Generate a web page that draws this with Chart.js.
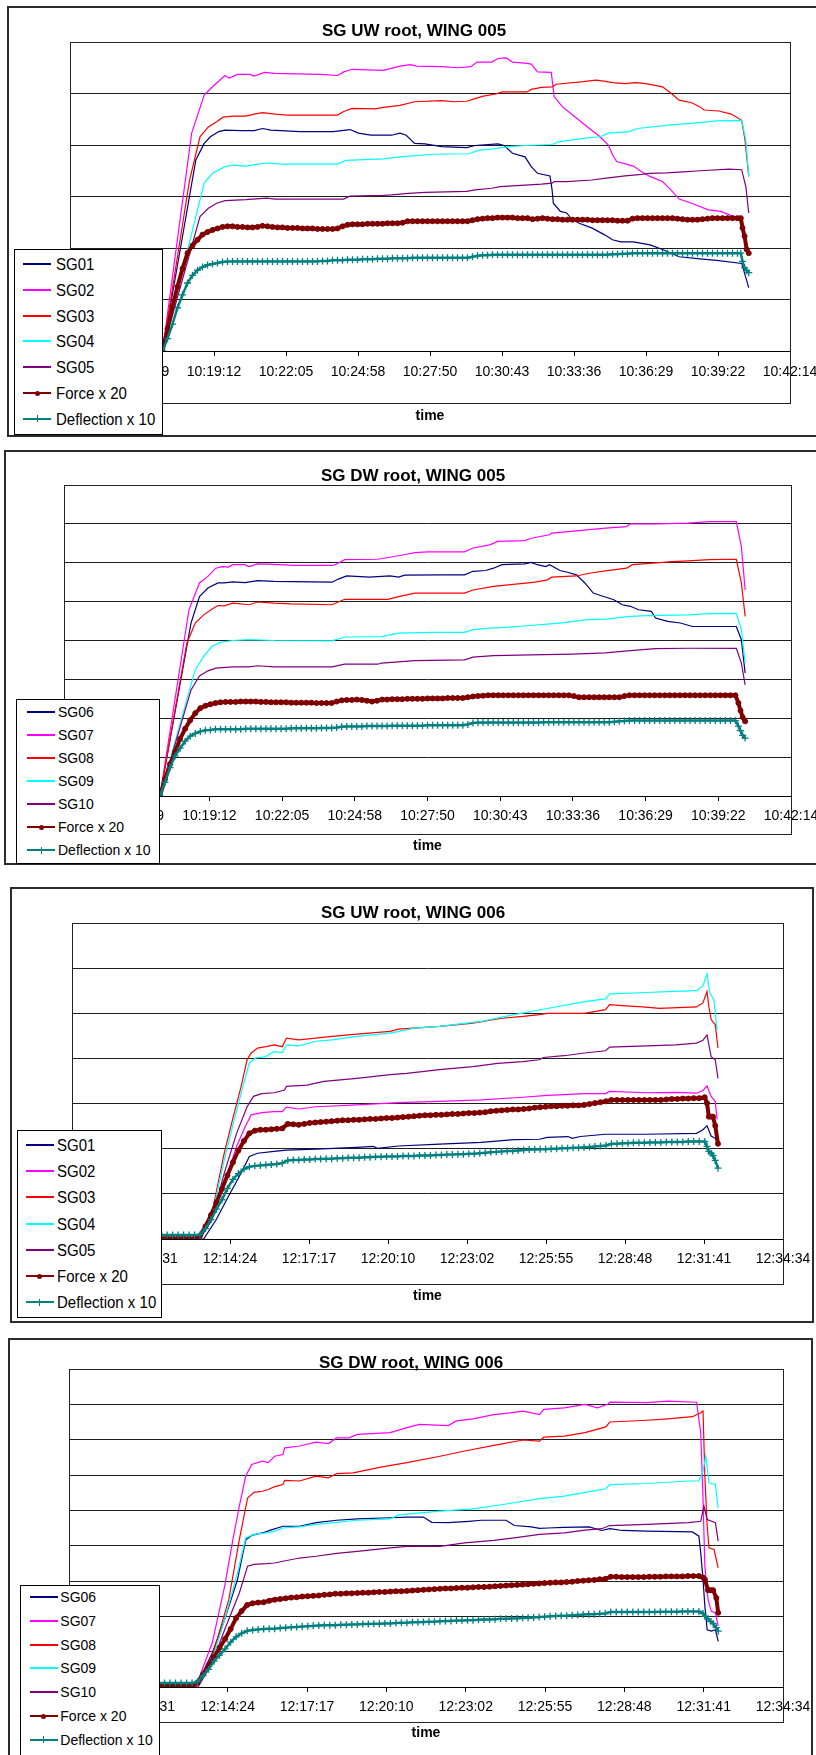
<!DOCTYPE html>
<html>
<head>
<meta charset="utf-8">
<title>SG root, WING 005 / 006</title>
<script src="https://cdn.jsdelivr.net/npm/chart.js@4.4.1/dist/chart.umd.min.js"></script>
<style>
  body {
    margin: 0;
    width: 816px;
    height: 1755px;
    overflow: hidden;
    position: relative;
    background: #fff;
    font-family: "Liberation Sans", Arial, sans-serif;
  }
  .frame {
    position: absolute;
    box-sizing: border-box;
    border: 2px solid #2b2b2b;
  }
  .chart-title {
    position: absolute;
    width: 400px;
    height: 20px;
    line-height: 20px;
    text-align: center;
    font-weight: bold;
    font-size: 17px;
    color: #000;
    white-space: nowrap;
  }
  .legend {
    position: absolute;
    box-sizing: border-box;
    border: 1px solid #000;
    background: #fff;
  }
  .legend-line {
    position: absolute;
    height: 2px;
  }
  .legend-dot {
    position: absolute;
    width: 5px;
    height: 5px;
    border-radius: 50%;
  }
  .legend-plus {
    position: absolute;
  }
  .legend-text {
    position: absolute;
    line-height: 1;
    white-space: nowrap;
    color: #000;
    transform: translateY(-50%) scaleY(1.07);
    transform-origin: left center;
  }
</style>
</head>
<body>
<script>
// Time axes: seconds after the first tick, one major unit = 0.002 day
const TICK_STEP = 172.8;
const ticks005 = ["10:13:26", "10:16:19", "10:19:12", "10:22:05", "10:24:58", "10:27:50",
  "10:30:43", "10:33:36", "10:36:29", "10:39:22", "10:42:14"];
const ticks006 = ["12:08:38", "12:11:31", "12:14:24", "12:17:17", "12:20:10",
  "12:23:02", "12:25:55", "12:28:48", "12:31:41", "12:34:34"];

const namesUW = ["SG01", "SG02", "SG03", "SG04", "SG05", "Force x 20", "Deflection x 10"];
const namesDW = ["SG06", "SG07", "SG08", "SG09", "SG10", "Force x 20", "Deflection x 10"];

// ---- SG UW root, WING 005 : [seconds, value] ----
const uw005SG01 = [[222,0],[302,3.71],[322,4.03],[337,4.16],[357,4.26],[372,4.29],[412,4.28],[442,4.28],[462,4.32],[482,4.29],[552,4.26],[632,4.26],[662,4.29],[672,4.30],[692,4.23],[722,4.19],[772,4.19],[792,4.23],[807,4.19],[827,4.03],[852,4.02],[892,3.97],[952,3.95],[972,3.99],[1027,4.02],[1042,3.99],[1062,3.84],[1092,3.77],[1107,3.58],[1122,3.45],[1152,3.40],[1157,3.13],[1160,2.87],[1177,2.71],[1192,2.68],[1202,2.58],[1222,2.48],[1252,2.39],[1282,2.26],[1302,2.16],[1322,2.12],[1352,2.12],[1392,2.06],[1422,1.97],[1462,1.83],[1512,1.79],[1552,1.76],[1612,1.70],[1629,1.23]];
const uw005SG02 = [[222,0],[292,4.23],[322,4.97],[342,5.13],[372,5.35],[382,5.30],[402,5.37],[432,5.37],[442,5.34],[467,5.41],[492,5.39],[602,5.37],[642,5.35],[657,5.42],[677,5.47],[752,5.45],[792,5.53],[817,5.56],[832,5.53],[892,5.52],[932,5.50],[962,5.52],[977,5.61],[1012,5.61],[1027,5.68],[1047,5.69],[1062,5.61],[1092,5.59],[1107,5.57],[1122,5.42],[1155,5.41],[1162,4.94],[1182,4.74],[1202,4.61],[1242,4.35],[1272,4.16],[1292,4.00],[1302,3.81],[1312,3.68],[1352,3.59],[1372,3.48],[1392,3.39],[1422,3.29],[1442,3.13],[1462,2.95],[1492,2.87],[1532,2.74],[1562,2.71],[1587,2.63],[1612,2.58],[1622,2.16],[1629,1.90]];
const uw005SG03 = [[222,0],[287,3.32],[312,4.16],[332,4.35],[352,4.45],[367,4.54],[392,4.56],[422,4.56],[442,4.60],[462,4.63],[492,4.60],[522,4.58],[642,4.58],[657,4.65],[677,4.71],[732,4.70],[752,4.73],[792,4.77],[827,4.84],[892,4.86],[922,4.84],[952,4.85],[972,4.90],[992,4.95],[1022,4.99],[1037,5.03],[1097,5.03],[1107,5.08],[1132,5.12],[1157,5.13],[1167,5.18],[1232,5.23],[1262,5.26],[1282,5.24],[1302,5.21],[1332,5.19],[1357,5.21],[1382,5.19],[1422,5.13],[1442,5.01],[1462,4.87],[1492,4.82],[1512,4.74],[1522,4.68],[1557,4.66],[1587,4.60],[1612,4.48],[1620,4.10],[1629,3.39]];
const uw005SG04 = [[222,0],[322,3.26],[342,3.45],[372,3.58],[392,3.61],[422,3.59],[452,3.63],[472,3.65],[512,3.63],[642,3.63],[662,3.70],[692,3.71],[752,3.73],[792,3.77],[822,3.79],[872,3.82],[957,3.83],[982,3.90],[1012,3.92],[1052,3.97],[1092,3.99],[1157,4.01],[1172,4.06],[1232,4.13],[1272,4.16],[1292,4.23],[1342,4.26],[1362,4.32],[1442,4.39],[1492,4.42],[1552,4.47],[1612,4.48],[1622,4.10],[1629,3.39]];
const uw005SG05 = [[222,0],[312,2.61],[332,2.77],[352,2.87],[372,2.92],[422,2.94],[472,2.97],[492,2.95],[657,2.95],[672,3.01],[752,3.02],[772,3.03],[812,3.06],[852,3.08],[952,3.10],[972,3.13],[1012,3.16],[1032,3.19],[1072,3.21],[1132,3.24],[1157,3.26],[1162,3.29],[1192,3.29],[1252,3.32],[1292,3.36],[1332,3.40],[1372,3.43],[1392,3.45],[1432,3.46],[1472,3.48],[1512,3.50],[1582,3.53],[1612,3.52],[1622,3.19],[1629,2.68]];
const uw005Force = [
  0,0.43,0.86,1.25,1.60,1.90,2.05,2.16,2.26,2.31,2.35,2.38,2.41,2.42,
  2.42,2.41,2.41,2.40,2.40,2.41,2.43,2.42,2.41,2.40,2.40,
  2.39,2.39,2.39,2.38,2.38,2.38,2.37,2.37,2.37,2.37,2.38,
  2.42,2.45,2.46,2.46,2.46,2.47,2.47,2.47,2.47,2.48,2.48,2.48,2.49,2.52,
  2.52,2.52,2.52,2.52,2.52,2.52,2.52,2.52,2.52,2.52,2.52,2.52,
  2.54,2.56,2.57,2.58,2.58,2.59,2.59,2.59,2.59,2.58,2.58,2.58,
  2.56,2.57,2.58,2.57,2.56,2.56,2.55,2.55,2.55,2.55,2.55,2.55,2.54,2.54,2.54,2.54,2.54,2.53,2.53,2.53,
  2.57,2.58,2.58,2.58,2.58,2.58,2.58,2.58,2.58,2.57,2.56,2.55,
  2.55,2.55,2.56,2.57,2.58,2.58,2.58,2.58,2.58,2.58,
  2.58,2.39,2.23,1.97,1.90];
const uw005Deflection = [
  0,0.24,0.52,0.84,1.09,1.32,1.47,1.57,1.63,1.67,1.69,1.71,1.73,1.74,
  1.74,1.74,1.74,1.74,1.74,1.74,1.74,1.74,1.74,1.74,1.74,1.74,1.74,1.74,1.74,1.74,1.74,1.74,
  1.75,1.75,1.76,1.76,1.76,1.77,1.77,1.77,1.78,1.78,1.78,1.79,1.79,1.79,1.80,1.80,1.80,1.80,
  1.81,1.81,1.81,1.81,1.81,1.81,1.81,1.81,1.81,1.81,1.81,1.81,
  1.83,1.85,1.86,1.86,1.87,
  1.87,1.87,1.87,1.87,1.87,1.87,1.87,1.87,1.87,1.87,1.87,1.87,1.87,1.87,1.87,1.87,1.87,1.87,1.87,1.87,1.87,1.87,1.87,
  1.88,1.88,1.89,1.89,1.90,
  1.90,1.90,1.90,1.90,1.90,1.90,1.90,1.90,1.90,1.90,1.90,1.90,1.90,1.90,1.90,1.90,1.90,1.90,1.90,1.90,1.90,
  1.90,1.74,1.62,1.56,1.52];

// ---- SG DW root, WING 005 ----
const dw005SG06 = [[228,0],[302,4.45],[322,5.13],[342,5.35],[366,5.48],[381,5.48],[401,5.51],[430,5.49],[460,5.54],[499,5.52],[637,5.50],[652,5.58],[672,5.66],[726,5.63],[775,5.66],[795,5.63],[810,5.68],[893,5.69],[952,5.69],[972,5.78],[1002,5.80],[1021,5.86],[1041,5.95],[1095,5.97],[1110,6.01],[1125,5.95],[1145,5.90],[1154,5.95],[1179,5.80],[1199,5.75],[1218,5.69],[1238,5.48],[1258,5.22],[1277,5.15],[1307,5.05],[1327,4.92],[1346,4.88],[1366,4.79],[1396,4.75],[1406,4.58],[1435,4.49],[1465,4.45],[1494,4.36],[1598,4.36],[1610,4.02],[1619,3.16]];
const dw005SG07 = [[228,0],[297,4.79],[322,5.48],[342,5.65],[361,5.86],[376,5.90],[391,5.89],[401,5.95],[430,5.95],[440,5.90],[460,5.97],[499,5.96],[549,5.93],[637,5.93],[647,5.96],[667,6.08],[746,6.09],[795,6.18],[834,6.26],[864,6.28],[952,6.28],[972,6.38],[1012,6.46],[1031,6.55],[1095,6.57],[1110,6.63],[1154,6.72],[1159,6.76],[1218,6.82],[1248,6.85],[1287,6.89],[1337,6.93],[1346,7.00],[1410,7.00],[1484,7.02],[1534,7.06],[1598,7.06],[1610,6.42],[1619,5.30]];
const dw005SG08 = [[228,0],[292,3.93],[312,4.45],[332,4.66],[352,4.81],[366,4.90],[381,4.89],[401,4.96],[440,4.92],[460,4.99],[499,4.96],[539,4.94],[637,4.92],[667,5.06],[770,5.06],[795,5.13],[834,5.22],[952,5.22],[972,5.30],[1021,5.39],[1120,5.50],[1149,5.56],[1159,5.63],[1218,5.66],[1248,5.73],[1287,5.79],[1337,5.86],[1351,5.95],[1401,5.99],[1445,6.03],[1484,6.05],[1534,6.08],[1598,6.09],[1610,5.48],[1619,4.62]];
const dw005SG09 = [[228,0],[312,3.25],[332,3.59],[352,3.85],[371,3.95],[401,4.00],[440,4.02],[499,4.00],[637,3.99],[667,4.09],[755,4.10],[795,4.19],[874,4.21],[952,4.21],[972,4.28],[1012,4.32],[1051,4.34],[1100,4.38],[1149,4.42],[1189,4.46],[1238,4.53],[1287,4.55],[1346,4.62],[1386,4.64],[1484,4.66],[1534,4.69],[1598,4.70],[1610,4.28],[1619,3.42]];
const dw005SG10 = [[228,0],[302,2.73],[322,3.09],[342,3.22],[361,3.29],[401,3.32],[440,3.32],[460,3.35],[499,3.32],[637,3.32],[667,3.39],[746,3.39],[755,3.42],[834,3.48],[952,3.50],[972,3.57],[1021,3.61],[1110,3.63],[1209,3.65],[1287,3.68],[1346,3.74],[1406,3.79],[1484,3.80],[1598,3.80],[1610,3.42],[1619,2.86]];
const dw005Force = [
  0,0.43,0.82,1.14,1.47,1.73,1.95,2.13,2.26,2.32,2.36,2.39,2.41,2.42,2.42,2.42,
  2.43,2.43,2.43,2.43,2.42,2.42,2.41,
  2.41,2.41,2.41,2.40,2.40,2.40,2.40,2.40,2.39,2.39,2.39,2.39,
  2.43,2.46,2.47,2.47,2.48,2.47,2.45,2.43,2.45,2.48,
  2.48,2.49,2.49,2.49,2.50,2.50,2.50,2.50,2.51,2.51,2.51,2.51,2.52,
  2.52,2.52,2.52,
  2.54,2.56,2.57,2.58,
  2.59,2.59,2.59,2.59,2.59,2.59,2.59,2.59,2.59,2.59,2.59,2.59,2.59,2.59,2.59,2.59,2.59,
  2.57,
  2.54,2.54,2.54,2.54,2.54,2.54,2.54,2.54,2.54,
  2.57,
  2.59,2.59,2.59,2.59,2.59,2.59,2.59,2.59,2.59,2.59,2.59,2.59,2.59,2.59,2.59,2.59,2.59,2.59,2.59,2.59,2.59,2.59,
  2.39,2.20,2.03,1.92];
const dw005Deflection = [
  0,0.35,0.73,1.03,1.23,1.41,1.54,1.61,1.66,1.69,1.70,1.72,
  1.72,1.72,1.72,1.72,1.72,1.73,1.73,1.73,1.73,1.73,1.73,
  1.73,1.73,1.73,1.74,1.74,1.74,1.74,1.74,1.74,1.75,1.75,1.75,
  1.76,1.78,
  1.79,1.79,1.79,1.79,1.80,1.80,1.80,1.80,1.80,1.81,
  1.81,1.81,1.81,1.81,1.81,1.81,1.82,1.82,1.82,1.82,1.82,1.82,1.82,1.82,
  1.84,1.88,
  1.89,1.89,1.89,1.89,1.89,1.89,1.89,1.89,1.89,1.89,1.89,1.89,1.89,
  1.90,1.90,1.90,1.90,1.90,1.90,1.90,1.90,1.90,1.90,1.90,1.90,1.90,
  1.90,1.91,1.92,1.93,
  1.94,1.94,1.94,1.94,1.94,1.94,1.94,1.94,1.94,1.94,1.94,1.94,1.94,1.94,1.94,1.94,1.94,1.94,1.94,1.94,1.94,1.94,
  1.80,1.68,1.56,1.49];

// ---- SG UW root, WING 006 ----
const uw006SG01 = [[100,0],[288,0],[315,0.42],[342,0.94],[370,1.46],[388,1.83],[406,1.90],[442,1.94],[469,1.97],[533,1.99],[623,2.03],[659,2.05],[668,2.01],[714,2.06],[804,2.10],[895,2.14],[967,2.20],[1022,2.21],[1040,2.25],[1085,2.27],[1094,2.23],[1112,2.27],[1167,2.32],[1257,2.32],[1366,2.34],[1380,2.42],[1389,2.51],[1398,2.28],[1407,2.23],[1411,2.14]];
const uw006SG02 = [[100,0],[279,0],[306,0.42],[333,1.23],[360,2.05],[379,2.49],[392,2.75],[415,2.80],[442,2.82],[460,2.82],[469,2.92],[496,2.88],[533,2.93],[623,2.97],[714,3.02],[804,3.05],[895,3.08],[986,3.14],[1040,3.18],[1121,3.22],[1167,3.22],[1176,3.27],[1257,3.24],[1321,3.25],[1366,3.23],[1380,3.29],[1389,3.39],[1398,3.16],[1407,3.05],[1411,2.65]];
const uw006SG03 = [[100,0],[279,0],[306,0.57],[333,1.90],[351,2.64],[370,3.38],[383,3.97],[392,4.12],[406,4.23],[424,4.26],[442,4.30],[460,4.26],[469,4.45],[496,4.41],[533,4.45],[569,4.49],[623,4.54],[696,4.60],[714,4.65],[804,4.71],[877,4.78],[940,4.89],[986,4.93],[1022,4.97],[1040,5.00],[1121,5.00],[1167,5.08],[1176,5.19],[1203,5.17],[1248,5.14],[1285,5.11],[1366,5.14],[1380,5.23],[1389,5.48],[1393,5.15],[1398,4.86],[1407,4.75],[1413,4.23]];
const uw006SG04 = [[100,0],[279,0],[306,0.50],[333,1.75],[351,2.49],[370,3.23],[388,3.90],[401,4.01],[424,4.04],[442,4.15],[460,4.13],[469,4.30],[496,4.28],[533,4.38],[569,4.41],[623,4.49],[696,4.56],[750,4.67],[804,4.71],[895,4.82],[967,4.97],[1031,5.09],[1121,5.26],[1167,5.32],[1176,5.43],[1257,5.46],[1303,5.48],[1366,5.50],[1380,5.60],[1389,5.88],[1395,5.45],[1404,5.30],[1411,4.63]];
const uw006SG05 = [[100,0],[279,0],[306,0.42],[333,1.46],[360,2.34],[383,2.93],[397,3.16],[415,3.22],[442,3.24],[465,3.30],[469,3.38],[514,3.41],[551,3.49],[623,3.56],[696,3.64],[732,3.67],[804,3.75],[877,3.82],[931,3.89],[986,3.93],[1022,3.97],[1031,4.02],[1076,4.06],[1121,4.12],[1167,4.17],[1176,4.25],[1257,4.28],[1321,4.30],[1366,4.34],[1380,4.40],[1389,4.52],[1398,4.04],[1407,3.97],[1413,3.56]];
const uw006Force = [
  0.01,0.01,0.01,0.01,0.01,0.01,0.01,0.01,0.01,0.01,0.01,0.01,0.01,0.01,0.01,
  0.07,0.28,0.53,0.81,1.11,1.41,1.70,1.96,2.17,2.34,2.40,2.42,2.42,2.43,2.44,2.45,
  2.55,2.54,2.53,2.55,2.57,2.58,2.59,2.60,2.61,2.62,2.63,2.63,2.64,2.64,2.65,2.66,
  2.66,2.67,2.68,2.68,2.69,2.70,2.71,2.72,2.73,2.74,2.74,2.75,2.75,2.76,2.77,2.77,
  2.78,2.79,2.79,2.80,2.81,2.83,2.84,2.85,2.86,2.87,2.87,2.88,2.89,2.91,2.92,2.93,
  2.94,2.94,2.95,2.95,2.96,2.96,2.97,2.99,3.01,3.03,3.05,3.08,
  3.08,3.08,3.08,3.08,3.08,3.08,3.08,3.08,3.08,
  3.09,3.10,3.10,3.11,3.11,3.12,3.12,3.14,
  3.01,2.71,2.71,2.71,2.51,2.11];
const uw006Deflection = [
  0.09,0.09,0.09,0.09,0.09,0.09,0.09,0.09,0.09,0.09,0.09,0.09,0.09,0.09,0.09,
  0.09,0.23,0.43,0.66,0.87,1.12,1.32,1.45,1.55,1.60,1.62,1.63,1.64,1.65,1.66,1.68,1.74,
  1.75,1.75,1.76,1.76,1.77,
  1.77,1.78,1.78,1.79,1.79,1.80,1.80,
  1.80,1.81,1.81,1.82,1.82,1.83,
  1.83,1.83,1.84,1.84,1.84,1.85,1.85,1.85,1.86,
  1.86,1.87,1.87,1.88,1.88,1.89,1.89,1.90,
  1.91,1.92,1.93,1.94,1.95,1.95,1.96,1.97,1.98,1.98,
  1.99,1.99,2.00,2.00,2.01,2.01,2.02,2.02,2.03,
  2.04,2.05,2.06,2.07,
  2.11,2.11,2.12,2.12,2.13,2.13,2.13,2.14,2.14,2.14,2.15,2.15,2.15,2.15,2.16,2.16,2.16,2.16,
  2.05,1.94,1.90,1.85,1.74,1.57];

// ---- SG DW root, WING 006 ----
const dw006SG06 = [[100,0],[276,0],[312,0.96],[339,1.91],[367,3.04],[385,4.17],[398,4.29],[421,4.36],[439,4.44],[466,4.55],[502,4.55],[538,4.65],[583,4.72],[628,4.76],[700,4.79],[736,4.81],[772,4.81],[790,4.66],[826,4.65],[871,4.69],[898,4.72],[952,4.72],[970,4.57],[1007,4.53],[1025,4.49],[1043,4.50],[1079,4.52],[1133,4.53],[1160,4.43],[1178,4.48],[1205,4.43],[1259,4.41],[1358,4.39],[1372,4.27],[1376,3.80],[1381,3.04],[1385,2.29],[1390,1.62],[1399,1.58],[1408,1.62],[1414,1.29]];
const dw006SG07 = [[100,0],[276,0],[312,1.25],[339,2.85],[357,4.17],[371,5.12],[385,5.97],[398,6.30],[421,6.39],[434,6.35],[448,6.53],[466,6.58],[470,6.77],[502,6.82],[538,6.93],[565,6.89],[583,7.05],[610,7.05],[628,7.15],[700,7.20],[736,7.34],[763,7.43],[826,7.40],[844,7.53],[880,7.59],[925,7.71],[961,7.76],[989,7.81],[1025,7.71],[1034,7.86],[1079,7.90],[1124,8.00],[1151,7.90],[1173,8.00],[1178,8.06],[1259,8.05],[1304,8.09],[1367,8.06],[1376,7.20],[1381,5.31],[1385,3.42],[1392,2.47],[1399,2.14],[1408,2.10],[1414,1.72]];
const dw006SG08 = [[100,0],[276,0],[312,0.87],[348,2.47],[371,4.17],[389,5.35],[403,5.51],[421,5.54],[434,5.59],[448,5.67],[466,5.73],[470,5.85],[502,5.83],[538,5.97],[565,5.92],[583,6.04],[619,6.06],[682,6.23],[736,6.35],[808,6.53],[862,6.68],[934,6.86],[989,6.99],[1025,6.96],[1034,7.07],[1079,7.10],[1124,7.20],[1169,7.36],[1178,7.50],[1259,7.55],[1304,7.59],[1358,7.65],[1376,7.76],[1381,7.81],[1385,5.97],[1390,4.55],[1394,3.94],[1405,3.89],[1414,3.37]];
const dw006SG09 = [[100,0],[281,0],[312,0.77],[339,1.91],[367,3.23],[385,4.22],[403,4.32],[430,4.36],[448,4.41],[466,4.50],[502,4.53],[538,4.60],[583,4.66],[628,4.72],[700,4.76],[718,4.87],[808,4.98],[880,5.04],[952,5.18],[1025,5.33],[1079,5.40],[1124,5.51],[1169,5.61],[1178,5.73],[1259,5.76],[1349,5.83],[1372,5.83],[1381,6.11],[1387,6.55],[1394,5.78],[1408,5.73],[1414,5.07]];
const dw006SG10 = [[100,0],[281,0],[312,0.68],[339,1.62],[371,2.66],[389,3.42],[403,3.47],[430,3.49],[448,3.51],[466,3.56],[502,3.65],[538,3.70],[583,3.78],[628,3.84],[700,3.94],[736,3.98],[808,3.98],[862,4.08],[925,4.15],[970,4.22],[1025,4.32],[1079,4.36],[1124,4.44],[1160,4.48],[1178,4.57],[1259,4.60],[1349,4.65],[1376,4.69],[1383,5.12],[1390,4.74],[1408,4.65],[1414,4.13]];
const dw006Force = [
  0.03,0.03,0.03,0.03,0.03,0.03,0.03,0.03,0.03,0.03,0.03,0.03,0.03,0.03,0.03,
  0.13,0.36,0.61,0.85,1.11,1.36,1.64,1.95,2.15,2.32,2.37,2.39,2.40,2.44,2.47,2.49,
  2.51,2.53,2.54,2.56,2.57,2.58,2.59,2.61,2.62,2.64,2.64,2.65,2.65,2.66,2.67,2.67,
  2.68,2.69,2.69,2.70,2.71,2.71,2.72,2.73,2.74,2.75,2.76,2.77,2.78,2.79,2.79,2.80,
  2.81,2.81,2.82,2.83,2.83,2.84,2.85,2.86,2.87,2.88,2.89,2.90,2.91,2.92,2.93,2.94,
  2.95,2.96,2.96,2.97,2.98,3.00,3.01,3.02,3.03,3.05,3.06,3.12,
  3.12,3.11,3.11,3.11,3.11,3.11,3.12,3.12,3.12,3.13,3.13,3.13,3.13,3.14,3.14,3.14,
  3.10,3.04,2.74,2.74,2.74,2.52,2.10];
const dw006Deflection = [
  0.11,0.11,0.11,0.11,0.11,0.11,0.11,0.11,0.11,0.11,0.11,0.11,0.11,0.11,0.11,
  0.15,0.32,0.50,0.73,0.90,1.08,1.27,1.42,1.52,1.59,1.61,
  1.63,1.64,1.65,1.65,1.67,
  1.68,1.69,1.70,1.71,1.72,1.73,1.74,1.75,1.75,
  1.75,1.76,1.76,1.77,1.77,1.78,1.78,1.79,1.79,1.80,
  1.80,1.81,1.82,1.82,1.83,1.83,1.84,1.85,1.85,1.86,
  1.87,1.87,1.88,1.88,1.89,1.89,1.90,1.91,1.91,1.92,
  1.93,1.93,1.94,1.94,1.95,1.96,1.97,1.98,1.99,2.00,
  2.01,2.02,2.02,2.03,2.04,2.05,2.06,2.06,2.07,2.08,
  2.12,2.12,2.12,2.12,2.12,2.12,2.12,2.12,2.12,2.13,2.13,2.13,2.13,2.14,2.14,2.14,2.14,
  2.08,2.00,1.93,1.85,1.80,1.68,1.58];

// Sample times of the logged force / deflection channels
function logTimes(first, last, step, tail) {
  const times = [];
  for (let t = first; t <= last; t += step) times.push(t);
  return times.concat(tail);
}
const uw005Times = logTimes(222, 1602, 12, [1610, 1614, 1619, 1624, 1629]);
const dw005Times = logTimes(228, 1596, 12, [1603, 1608, 1613, 1619]);
const uw006Times = logTimes(100, 1384, 12, [1389, 1393, 1398, 1402, 1407, 1413]);
const dw006Times = logTimes(100, 1372, 12, [1381, 1385, 1392, 1398, 1403, 1410, 1414]);

const FONT = '"Liberation Sans", Arial, sans-serif';
const STRAIN_COLORS = ["#000080", "#ff00ff", "#ff0000", "#00ffff", "#800080"];
const FORCE_COLOR = "#800000";
const DEFL_COLOR = "#008080";

// Page layout of the four chart panels
const panels = [
  {
    title: "SG UW root, WING 005", names: namesUW, tickLabels: ticks005, yMax: 6,
    strain: [uw005SG01, uw005SG02, uw005SG03, uw005SG04, uw005SG05],
    times: uw005Times, force: uw005Force, deflection: uw005Deflection,
    frame: { left: 7, top: 6, right: 830, bottom: 437 },
    plot: { left: 70, right: 790, top: 42, axis: 351, boxBottom: 403 },
    titleX: 414, titleY: 31, timeY: 416, tickPad: 8,
    legend: { left: 14, top: 249, width: 149, height: 186, first: 14, step: 25.8, font: 15, lineLeft: 8, textLeft: 41 },
  },
  {
    title: "SG DW root, WING 005", names: namesDW, tickLabels: ticks005, yMax: 8,
    strain: [dw005SG06, dw005SG07, dw005SG08, dw005SG09, dw005SG10],
    times: dw005Times, force: dw005Force, deflection: dw005Deflection,
    frame: { left: 4, top: 450, right: 830, bottom: 865 },
    plot: { left: 64, right: 791, top: 485, axis: 796, boxBottom: 834 },
    titleX: 413, titleY: 476, timeY: 846, tickPad: 7,
    legend: { left: 16, top: 699, width: 144, height: 165, first: 12, step: 23, font: 14, lineLeft: 10, textLeft: 41 },
  },
  {
    title: "SG UW root, WING 006", names: namesUW, tickLabels: ticks006, yMax: 7,
    strain: [uw006SG01, uw006SG02, uw006SG03, uw006SG04, uw006SG05],
    times: uw006Times, force: uw006Force, deflection: uw006Deflection,
    frame: { left: 10, top: 887, right: 814, bottom: 1323 },
    plot: { left: 72, right: 783, top: 923, axis: 1239, boxBottom: 1284 },
    titleX: 413, titleY: 913, timeY: 1296, tickPad: 7,
    legend: { left: 17, top: 1130, width: 145, height: 188, first: 14, step: 26.2, font: 15, lineLeft: 7.5, textLeft: 39 },
  },
  {
    title: "SG DW root, WING 006", names: namesDW, tickLabels: ticks006, yMax: 9,
    strain: [dw006SG06, dw006SG07, dw006SG08, dw006SG09, dw006SG10],
    times: dw006Times, force: dw006Force, deflection: dw006Deflection,
    frame: { left: 8, top: 1338, right: 813, bottom: 1775 },
    plot: { left: 69, right: 783, top: 1369, axis: 1687, boxBottom: 1722 },
    titleX: 411, titleY: 1363, timeY: 1733, tickPad: 7,
    legend: { left: 20, top: 1585, width: 140, height: 180, first: 11, step: 23.8, font: 14, lineLeft: 8.6, textLeft: 39.3 },
  },
];

// Rectangle around plot area, reaching down past the time labels
const plotBox = {
  id: "plotBox",
  afterDraw(chart, args, opts) {
    const { ctx, chartArea } = chart;
    const left = Math.round(chartArea.left) + 0.5;
    const top = Math.round(chartArea.top) + 0.5;
    const right = Math.round(chartArea.right) + 0.5;
    const bottom = Math.round(opts.bottom) + 0.5;
    ctx.save();
    ctx.strokeStyle = "#222";
    ctx.lineWidth = 1;
    ctx.strokeRect(left, top, right - left, bottom - top);
    ctx.restore();
  },
};

function addDiv(className, style, text) {
  const div = document.createElement("div");
  div.className = className;
  Object.assign(div.style, style);
  if (text) div.textContent = text;
  document.body.appendChild(div);
  return div;
}

function buildPanel(panel) {
  const { frame, plot } = panel;
  const height = frame.bottom - frame.top;

  addDiv("frame", {
    left: frame.left + "px", top: frame.top + "px",
    width: frame.right - frame.left + "px", height: height + "px",
  });

  const canvas = document.createElement("canvas");
  canvas.width = 816;
  canvas.height = height;
  canvas.style.cssText = `position:absolute;left:0;top:${frame.top}px;width:816px;height:${height}px`;
  document.body.appendChild(canvas);

  const axisY = plot.axis - frame.top;
  const xAxisHeight = panel.timeY - plot.axis + 8.4;
  const labels = panel.tickLabels;

  const datasets = panel.strain.map((rows, i) => ({
    label: panel.names[i],
    data: rows,
    borderColor: STRAIN_COLORS[i],
    borderWidth: 1.2,
    pointRadius: 0,
    order: 7 - i,
  }));
  // the logged channels are dense enough that their markers merge into a band
  datasets.push({
    label: panel.names[5],
    data: panel.times.map((t, i) => [t, panel.force[i]]),
    borderColor: FORCE_COLOR,
    backgroundColor: FORCE_COLOR,
    borderWidth: 4,
    pointStyle: "circle",
    pointRadius: 2.5,
    pointBorderWidth: 1,
    pointBorderColor: FORCE_COLOR,
    pointBackgroundColor: FORCE_COLOR,
    order: 2,
  });
  datasets.push({
    label: panel.names[6],
    data: panel.times.map((t, i) => [t, panel.deflection[i]]),
    borderColor: DEFL_COLOR,
    borderWidth: 2.5,
    pointStyle: "cross",
    pointRadius: 3.5,
    pointBorderWidth: 1.3,
    pointBorderColor: DEFL_COLOR,
    order: 1,
  });

  new Chart(canvas, {
    type: "line",
    data: { datasets },
    options: {
      responsive: false,
      animation: false,
      events: [],
      layout: {
        autoPadding: false,
        padding: {
          left: plot.left,
          right: 816 - plot.right,
          top: plot.top - frame.top,
          bottom: height - axisY - xAxisHeight,
        },
      },
      plugins: {
        legend: { display: false },
        title: { display: false },
        tooltip: { enabled: false },
        plotBox: { bottom: plot.boxBottom - frame.top },
      },
      scales: {
        x: {
          type: "linear",
          min: 0,
          max: (labels.length - 1) * TICK_STEP,
          afterBuildTicks: (scale) => {
            scale.ticks = labels.map((_, i) => ({ value: i * TICK_STEP }));
          },
          afterFit: (scale) => {
            scale.height = xAxisHeight;
            scale.paddingLeft = 0;
            scale.paddingRight = 0;
          },
          ticks: {
            autoSkip: false,
            maxRotation: 0,
            padding: panel.tickPad,
            color: "#000",
            font: { family: FONT, size: 14 },
            callback: (value, index) => labels[index],
          },
          grid: { drawOnChartArea: false, drawTicks: true, tickLength: 5, color: "#000" },
          border: { display: true, color: "#000", width: 1 },
          title: {
            display: true,
            text: "time",
            color: "#000",
            padding: 0,
            font: { family: FONT, size: 14, weight: "bold" },
          },
        },
        y: {
          min: 0,
          max: panel.yMax,
          afterFit: (scale) => {
            scale.width = 0;
            scale.paddingTop = 0;
            scale.paddingBottom = 0;
          },
          ticks: { display: false, stepSize: 1 },
          grid: { color: "#1e1e1e", lineWidth: 1, drawTicks: false },
          border: { display: false },
        },
      },
    },
    plugins: [plotBox],
  });

  addDiv("chart-title", {
    left: panel.titleX - 200 + "px",
    top: panel.titleY - 10 + "px",
  }, panel.title);

  buildLegend(panel);
}

function buildLegend(panel) {
  const L = panel.legend;
  const box = addDiv("legend", {
    left: L.left + "px", top: L.top + "px",
    width: L.width + "px", height: L.height + "px",
  });
  const colors = STRAIN_COLORS.concat([FORCE_COLOR, DEFL_COLOR]);
  panel.names.forEach((name, i) => {
    const cy = L.first + i * L.step;
    const line = document.createElement("div");
    line.className = "legend-line";
    Object.assign(line.style, {
      left: L.lineLeft + "px", top: cy - 1 + "px", width: "28px", background: colors[i],
    });
    box.appendChild(line);

    if (i === 5) {
      const dot = document.createElement("div");
      dot.className = "legend-dot";
      Object.assign(dot.style, {
        left: L.lineLeft + 11.5 + "px", top: cy - 2.5 + "px", background: FORCE_COLOR,
      });
      box.appendChild(dot);
    }
    if (i === 6) {
      const bar = document.createElement("div");
      bar.className = "legend-plus";
      Object.assign(bar.style, {
        left: L.lineLeft + 13.5 + "px", top: cy - 3.5 + "px", width: "1px", height: "7px", background: DEFL_COLOR,
      });
      box.appendChild(bar);
    }

    const text = document.createElement("div");
    text.className = "legend-text";
    text.textContent = name;
    Object.assign(text.style, {
      left: L.textLeft + "px", top: cy + "px", fontSize: L.font + "px",
    });
    box.appendChild(text);
  });
}

Chart.defaults.font.family = FONT;
panels.forEach(buildPanel);
</script>
</body>
</html>
